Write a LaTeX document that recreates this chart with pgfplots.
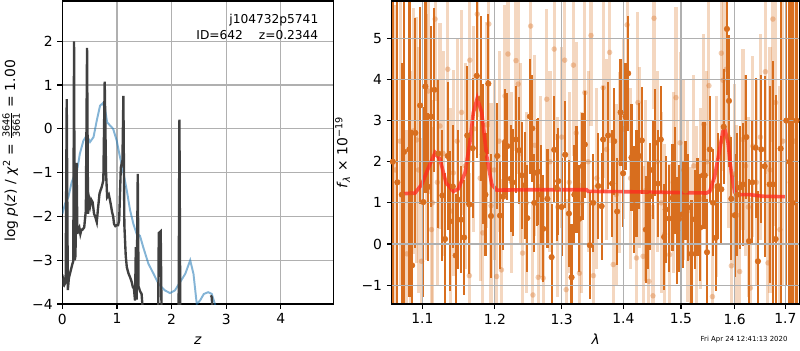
\documentclass[border=0pt]{standalone}
\usepackage{fontspec}
\setmainfont{DejaVu Sans}
\usepackage{pgfplots}
\pgfplotsset{compat=1.18}
\definecolor{gridgray}{rgb}{0.69,0.69,0.69}
\definecolor{darkor}{RGB}{216,110,30}
\definecolor{modelred}{RGB}{255,40,30}
\definecolor{pzblue}{RGB}{31,119,180}
\pgfplotsset{
  common/.style={
    scale only axis, height=218.2pt,
    grid=major, grid style={color=gridgray, line width=0.8pt},
    tick align=outside, tick pos=left, major tick length=3.5pt,
    tick style={black, line width=0.8pt},
    axis line style={line width=0.8pt},
    ticklabel style={font=\fontsize{10}{12}\selectfont},
    label style={font=\fontsize{10}{12}\selectfont},
    minor tick num=0,
  }
}
\begin{document}
\begin{tikzpicture}
\begin{axis}[common, at={(0pt,0pt)}, anchor=south west, width=195.1pt,
  xmin=0, xmax=4.96, ymin=-4, ymax=2.92,
  xtick={0,1,2,3,4}, xticklabels={0,1,2,3,4},
  ytick={-4,-3,-2,-1,0,1,2}, yticklabels={−4,−3,−2,−1,0,1,2},
  xlabel={\textit{z}},
  xlabel style={at={(axis description cs:0.5,0)}, anchor=base, yshift=-28.8pt},
  ylabel={log \textit{p}(\textit{z}) / \textit{χ}\textsuperscript{2} = $\frac{\mbox{\fontsize{7}{8}\selectfont 3646}}{\mbox{\fontsize{7}{8}\selectfont 3661}}$ = 1.00},
  ylabel style={at={(axis description cs:-0.1886,0.505)}, anchor=center},
]
\addplot[pzblue, opacity=0.55, line width=1.4pt] coordinates {
(0,-1.94) (0.05,-1.71) (0.11,-1.56) (0.17,-1.22) (0.23,-1.03) (0.27,-0.95) (0.32,-0.57)
(0.385,-0.27) (0.446,-0.15) (0.507,-0.30) (0.57,-0.19) (0.63,0.19) (0.69,0.53) (0.74,0.585)
(0.78,0.46) (0.82,0.15) (0.87,0.08) (0.93,0.0) (0.995,-0.27) (1.056,-0.65) (1.117,-0.99)
(1.18,-1.41) (1.24,-1.86) (1.30,-2.17) (1.36,-2.40) (1.42,-2.44) (1.48,-2.70) (1.575,-3.08)
(1.67,-3.31) (1.76,-3.54) (1.88,-3.69) (1.97,-3.75) (2.06,-3.69) (2.155,-3.50) (2.25,-3.31)
(2.34,-3.00) (2.40,-3.31) (2.46,-4.00) (2.52,-3.92) (2.59,-3.77) (2.67,-3.73) (2.735,-3.77) (2.80,-4.03)
};
\addplot[black!75, line width=1.7pt] coordinates {
(0,-3.6) (0.02,-3.45) (0.04,-3.55) (0.06,-3.5) (0.08,0.68) (0.10,-3.68) (0.12,-3.4) (0.14,-3.3)
(0.16,-3.2) (0.18,-3.1) (0.20,-3.02) (0.214,2.0) (0.226,-3.0) (0.24,-2.9) (0.26,-0.78) (0.275,-2.4)
(0.29,-2.3) (0.31,-2.25) (0.33,-2.4) (0.35,-2.3) (0.37,-2.3) (0.40,-2.25) (0.43,-1.86) (0.452,1.85)
(0.47,-1.94) (0.49,-1.6) (0.51,-1.75) (0.53,-1.62) (0.555,-1.68) (0.58,-1.94) (0.60,-2.0) (0.63,-2.13)
(0.65,-1.85) (0.68,-1.48) (0.70,-1.4) (0.72,-1.33) (0.75,-1.18) (0.775,1.08) (0.80,-1.0) (0.82,-1.56)
(0.85,-1.5) (0.873,-1.64) (0.89,-1.75) (0.91,-1.9) (0.93,-2.0) (0.946,-2.17) (0.97,-2.22) (0.995,-2.2)
(1.02,-2.2) (1.04,-2.09) (1.07,-0.88) (1.10,-0.72) (1.117,0.75) (1.135,-2.2) (1.16,-2.9) (1.18,-3.16)
(1.21,-3.3) (1.24,-3.39) (1.27,-3.5) (1.29,-3.61) (1.31,-3.65) (1.33,-3.92) (1.345,-2.7) (1.36,-3.9)
(1.38,-1.03) (1.395,-3.6) (1.42,-3.7) (1.45,-3.77) (1.47,-4.1)
};
\addplot[black!75, line width=1.7pt] coordinates {(1.755,-4.1) (1.765,-2.38) (1.80,-2.34) (1.815,-4.1)};
\addplot[black!75, line width=1.7pt] coordinates {(2.128,-4.1) (2.143,0.21) (2.158,-4.1)};
\addplot[black!75, line width=1.7pt] coordinates {(2.72,-3.8) (2.735,-3.85) (2.745,-4.1)};
\node[anchor=east, inner sep=0pt, font=\fontsize{8.8}{10}\selectfont] at (axis cs:4.69,2.49) {j104732p5741};
\node[anchor=east, inner sep=0pt, font=\fontsize{8.8}{10}\selectfont] at (axis cs:4.69,2.146) {ID=642\hspace{1.3em}z=0.2344};
\end{axis}

\begin{axis}[common, at={(237.2pt,0pt)}, anchor=south west, width=293.5pt,
  xmode=log, xmin=1.0605, xmax=1.729, ymin=-1.46, ymax=5.91,
  xtick={1.1,1.2,1.3,1.4,1.5,1.6,1.7}, xticklabels={1.1,1.2,1.3,1.4,1.5,1.6,1.7},
  minor xtick={},
  ytick={-1,0,1,2,3,4,5}, yticklabels={−1,0,1,2,3,4,5},
  axis on top,
  xlabel={\textit{λ}},
  xlabel style={at={(axis description cs:0.5,0)}, anchor=base, yshift=-28.8pt},
  ylabel={\textit{f}\textsubscript{\textit{λ}} × 10\textsuperscript{−19}},
  ylabel style={at={(axis description cs:-0.1206,0.5)}, anchor=center},
]
% light (faded) spectrum
\addplot[only marks, mark=*, mark size=2pt, color=darkor,
  mark options={draw opacity=0, fill opacity=0.35},
  error bars/.cd, y dir=both, y explicit, error mark=none,
  error bar style={line width=2.2pt, color=darkor, opacity=0.28}]
table[x=l, y=f, y error=e] {
l f e
1.0650 1.8 4.0
1.0710 2.5 3.5
1.0798 -0.24 3.0
1.0850 1.2 3.0
1.0882 2.75 3.0
1.0925 2.53 3.0
1.0950 1.8 3.0
1.0989 -0.42 3.0
1.1050 2.6 3.0
1.1080 3.72 2.5
1.1122 0.35 2.5
1.1135 1.0 2.5
1.1170 5.47 2.0
1.1200 1.5 2.5
1.1236 2.87 2.5
1.1280 2.2 2.5
1.1341 4.25 2.2
1.1380 0.8 2.5
1.1417 1.73 2.5
1.1470 2.5 2.5
1.1530 3.2 2.5
1.1580 1.9 2.5
1.1638 -0.77 2.5
1.1645 4.47 2.5
1.1700 2.8 2.5
1.1749 5.59 2.5
1.1790 1.6 2.5
1.1827 0.27 2.5
1.1880 2.9 2.5
1.1913 5.35 2.5
1.1944 0.93 2.5
1.1990 1.8 2.2
1.2026 -0.79 2.2
1.2060 2.5 2.2
1.2095 -0.63 2.2
1.2146 3.6 2.2
1.2190 4.62 2.2
1.2240 1.5 2.2
1.2307 4.46 2.2
1.2340 3.89 2.2
1.2370 2.2 2.2
1.2405 -0.22 2.2
1.2460 1.0 2.2
1.2526 5.3 2.2
1.2560 -1.24 2.2
1.2590 2.4 2.2
1.2640 -0.81 2.2
1.2680 1.4 2.2
1.2716 -0.83 2.2
1.2770 3.52 2.2
1.2820 2.0 2.2
1.2885 4.74 2.2
1.2940 0.9 2.2
1.3000 2.6 2.2
1.3048 4.47 2.2
1.3070 -1.11 2.2
1.3120 1.5 2.2
1.3185 4.35 2.2
1.3230 2.7 2.2
1.3280 -0.71 2.2
1.3320 1.0 2.2
1.3367 3.68 2.2
1.3420 2.0 2.2
1.3466 5.07 2.2
1.3505 -0.77 2.2
1.3560 1.6 2.2
1.3664 3.8 2.2
1.3720 2.3 2.2
1.3770 4.66 2.2
1.3830 -0.5 2.2
1.3880 1.2 2.2
1.3940 1.98 2.2
1.4000 2.8 2.2
1.4062 5.33 2.2
1.4120 1.6 2.2
1.4221 -0.34 2.2
1.4245 3.44 2.2
1.4280 2.1 2.2
1.4333 -0.3 2.2
1.4380 1.3 2.2
1.4435 -0.91 2.2
1.4505 -1.26 2.2
1.4523 5.49 2.2
1.4580 2.0 2.2
1.4650 1.0 2.2
1.4710 0.24 2.2
1.4797 -0.26 2.2
1.4860 1.5 2.2
1.4911 3.56 2.2
1.4984 2.46 2.2
1.5050 1.8 2.2
1.5120 0.8 2.2
1.5170 -0.33 2.2
1.5230 1.9 2.2
1.5290 0.67 2.2
1.5350 1.1 2.2
1.5418 2.91 2.2
1.5470 2.0 2.2
1.5511 3.85 2.2
1.5577 -1.28 2.2
1.5650 1.4 2.2
1.5745 4.64 2.2
1.5777 3.98 2.2
1.5838 4.25 2.2
1.5880 2.6 2.2
1.5935 -0.53 2.2
1.5990 1.7 2.2
1.6040 0.7 2.2
1.6094 -0.67 2.2
1.6158 2.54 2.2
1.6210 1.9 2.2
1.6260 0.9 2.2
1.6302 -1.07 2.2
1.6350 2.38 2.2
1.6420 1.5 2.5
1.6500 2.6 2.5
1.6597 4.19 2.5
1.6650 -0.46 2.5
1.6690 1.8 3.0
1.6749 5.47 3.0
1.6803 3.44 3.0
1.6890 0.35 3.5
1.6950 2.5 3.5
1.7100 1.5 4.0
1.7180 2.5 4.0
};
% dark spectrum
\addplot[only marks, mark=*, mark size=2pt, color=darkor,
  mark options={draw=darkor, fill=darkor},
  error bars/.cd, y dir=both, y explicit, error mark=none,
  error bar style={line width=1.6pt, color=darkor}]
table[x=l, y=f, y error=e] {
l f e
1.0618 2.00 4.5
1.0676 1.50 4.5
1.0733 1.20 3.2
1.0762 2.24 3.8
1.0831 2.30 3.6
1.0866 -0.52 3.3
1.0909 2.70 2.8
1.0971 3.37 2.4
1.1014 1.02 2.3
1.1041 3.83 2.6
1.1080 1.39 1.8
1.1112 3.10 2.2
1.1160 3.75 2.0
1.1214 2.20 1.8
1.1268 1.18 1.6
1.1304 0.12 1.6
1.1341 2.14 1.8
1.1372 0.55 1.7
1.1410 1.40 1.5
1.1449 -0.28 1.5
1.1485 1.08 1.7
1.1522 0.59 1.3
1.1565 0.16 1.4
1.1610 2.64 1.7
1.1638 0.96 1.7
1.1686 2.33 1.7
1.1742 4.09 2.0
1.1798 3.54 2.0
1.1827 2.18 1.7
1.1865 1.20 1.5
1.1906 3.90 1.7
1.1944 0.68 1.5
1.2035 2.14 1.3
1.2074 0.69 1.3
1.2121 1.15 1.3
1.2146 2.48 1.3
1.2180 2.38 1.3
1.2230 1.59 1.3
1.2259 1.50 1.3
1.2307 2.54 1.3
1.2356 2.28 1.3
1.2392 1.67 1.3
1.2441 1.43 1.3
1.2475 0.63 1.3
1.2515 3.10 1.4
1.2550 2.81 1.3
1.2580 1.00 1.2
1.2616 1.73 1.3
1.2640 1.76 1.3
1.2680 1.20 1.2
1.2716 0.37 1.3
1.2780 1.10 1.2
1.2845 -0.32 1.3
1.2885 2.29 1.3
1.2922 1.37 1.3
1.2947 1.53 1.3
1.3000 0.90 1.2
1.3056 2.17 1.3
1.3114 0.74 1.3
1.3156 -0.81 1.3
1.3200 1.20 1.2
1.3235 1.57 1.3
1.3276 0.61 1.3
1.3330 1.89 1.3
1.3367 2.42 1.3
1.3448 -0.03 1.3
1.3500 1.00 1.2
1.3582 1.41 1.3
1.3638 0.92 1.3
1.3664 2.54 1.3
1.3746 2.64 1.3
1.3812 1.47 1.3
1.3845 2.50 1.3
1.3895 0.79 1.3
1.3952 3.20 1.3
1.3995 1.72 1.3
1.4036 3.10 1.3
1.4079 4.15 1.4
1.4136 2.10 1.3
1.4181 1.08 1.3
1.4221 1.47 1.3
1.4266 2.14 1.3
1.4312 2.52 1.3
1.4381 0.35 1.3
1.4420 0.69 1.3
1.4450 1.16 1.3
1.4500 1.80 1.2
1.4542 2.46 1.3
1.4594 1.47 1.3
1.4641 2.54 1.3
1.4700 0.17 1.3
1.4729 0.84 1.3
1.4788 0.62 1.3
1.4848 1.12 1.3
1.4894 1.54 1.3
1.4930 0.33 1.3
1.4966 0.61 1.3
1.5027 0.72 1.3
1.5080 1.30 1.2
1.5128 0.89 1.3
1.5190 -0.24 1.3
1.5250 0.60 1.2
1.5300 0.90 1.2
1.5350 0.40 1.3
1.5402 1.67 1.3
1.5433 1.67 1.3
1.5476 -0.20 1.3
1.5527 2.30 1.3
1.5588 1.00 1.3
1.5638 0.15 1.3
1.5682 1.41 1.3
1.5745 1.33 1.3
1.5789 2.85 1.4
1.5851 5.23 1.6
1.5889 3.48 1.6
1.5935 1.10 1.5
1.6000 0.70 1.5
1.6050 1.20 1.5
1.6094 1.37 1.5
1.6158 1.45 1.5
1.6223 2.60 1.5
1.6274 0.07 1.5
1.6340 1.50 1.5
1.6405 2.34 1.7
1.6450 -0.42 1.7
1.6517 2.30 1.8
1.6583 1.89 2.2
1.6683 1.45 2.4
1.6749 1.45 3.0
1.6803 0.12 3.5
1.6904 2.32 4.0
1.7020 3.00 4.0
1.7087 2.00 6.0
1.7148 1.00 7.0
1.7230 3.00 7.0
};
% model
\addplot[modelred, opacity=0.75, line width=2.6pt] coordinates {
(1.0724,1.22) (1.0905,1.24) (1.0993,1.45) (1.108,1.85) (1.117,2.22) (1.1236,2.06) (1.1317,1.49)
(1.1417,1.28) (1.1485,1.34) (1.1578,1.73) (1.1645,2.46) (1.1694,3.2) (1.1749,3.54) (1.1812,3.2)
(1.1883,2.14) (1.1955,1.45) (1.2026,1.31) (1.2515,1.32) (1.3395,1.32) (1.342,1.28) (1.4108,1.27)
(1.5466,1.24) (1.5527,1.28) (1.562,1.65) (1.5701,2.22) (1.5777,2.75) (1.581,2.79) (1.5872,2.46)
(1.5935,1.73) (1.5999,1.26) (1.6062,1.20) (1.6291,1.20) (1.655,1.16) (1.70,1.15)
};
% zero line
\addplot[black, line width=1.2pt, dash pattern=on 1.2pt off 1.8pt] coordinates {(1.0605,0) (1.729,0)};
\end{axis}
\node[anchor=east, inner sep=0pt, font=\fontsize{5}{6}\selectfont] at (522.3pt,-25.4pt) {Fri Apr 24 12:41:13 2020};
\pgfresetboundingbox
\useasboundingbox (-44.9pt,-33.1pt) rectangle (531.1pt,218.9pt);
\end{tikzpicture}
\end{document}
